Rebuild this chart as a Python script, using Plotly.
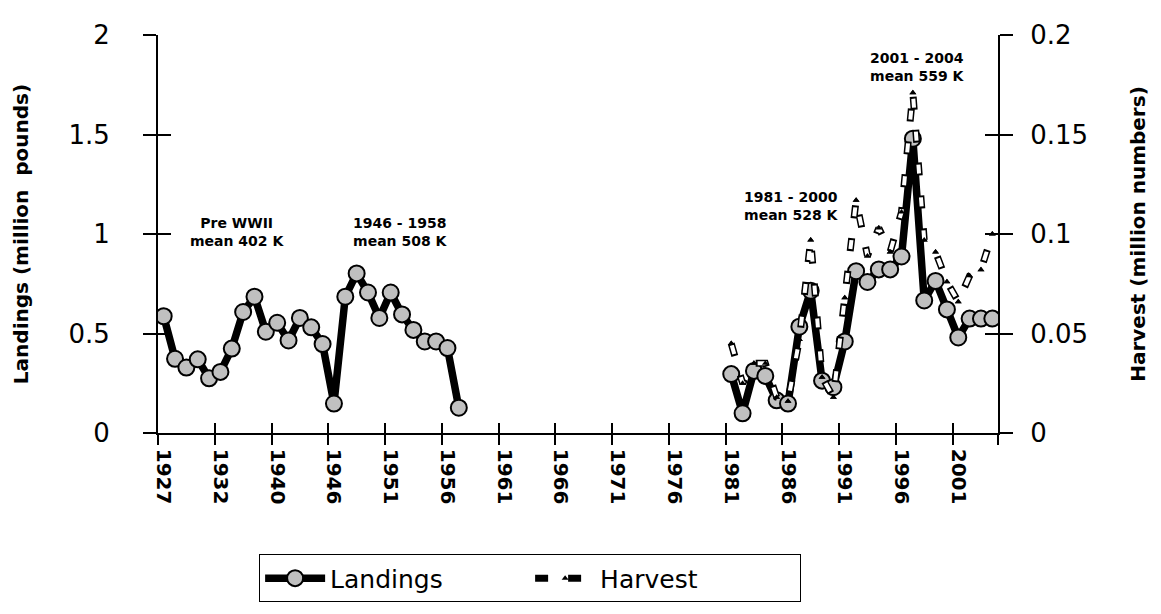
import plotly.graph_objects as go

# ---- categories (x axis) ----
years = [str(y) for y in list(range(1927, 1937)) + [1940, 1941, 1942, 1943, 1944] + list(range(1946, 2005))]
label_years = ["1927", "1932", "1940", "1946", "1951", "1956", "1961", "1966",
               "1971", "1976", "1981", "1986", "1991", "1996", "2001"]

# ---- series values ----
landings_early_years = years[0:27]          # 1927 ... 1957
landings_early = [0.587, 0.373, 0.329, 0.370, 0.275, 0.307, 0.424, 0.608, 0.685, 0.509,
                  0.554, 0.465, 0.578, 0.531, 0.447, 0.148, 0.685, 0.802, 0.706, 0.578,
                  0.706, 0.596, 0.518, 0.460, 0.460, 0.427, 0.127]
late_years = [str(y) for y in range(1981, 2005)]
landings_late = [0.296, 0.099, 0.312, 0.287, 0.164, 0.148, 0.534, 0.715, 0.263, 0.230,
                 0.460, 0.813, 0.759, 0.822, 0.822, 0.887, 1.479, 0.666, 0.764, 0.621,
                 0.480, 0.575, 0.575, 0.575]
harvest_late = [0.045, 0.025, 0.035, 0.035, 0.018, 0.016, 0.047, 0.097, 0.028, 0.018,
                0.068, 0.117, 0.089, 0.103, 0.091, 0.111, 0.171, 0.097, 0.091, 0.076,
                0.066, 0.079, 0.082, 0.100]

notes = [("Pre WWII<br>mean 402 K", 6.5, 1.01),
         ("1946 - 1958<br>mean 508 K", 20.9, 1.01),
         ("1981 - 2000<br>mean 528 K", 55.3, 1.14),
         ("2001 - 2004<br>mean 559 K", 66.4, 1.84)]

# full-length arrays (None where no data)
land_map = dict(zip(landings_early_years, landings_early))
land_map.update(dict(zip(late_years, landings_late)))
landings_all = [land_map.get(y) for y in years]
harv_map = dict(zip(late_years, harvest_late))
harvest_all = [harv_map.get(y) for y in years]

FONT = "DejaVu Sans"
n = len(years)
boundaries = [i - 0.5 for i in range(0, n, 5)] + [n - 0.5]

fig = go.Figure()
fig.add_trace(go.Scatter(
    x=years, y=landings_all, name="Landings", mode="lines+markers",
    line=dict(color="black", width=7.5), connectgaps=False,
    marker=dict(symbol="circle", size=16, color="#c0c0c0", line=dict(color="black", width=2)),
))
# Harvest: outlined dashed line (black dashes + white inner dashes) with triangles
fig.add_trace(go.Scatter(
    x=years, y=harvest_all, name="Harvest", yaxis="y2", mode="lines+markers",
    line=dict(color="black", width=7, dash="13px,20px"), connectgaps=False,
    marker=dict(symbol="triangle-up", size=6, color="black"),
))
fig.add_trace(go.Scatter(
    x=years, y=harvest_all, yaxis="y2", mode="lines", showlegend=False, hoverinfo="skip",
    line=dict(color="white", width=4, dash="0px,2px,9px,22px"), connectgaps=False,
))
fig.add_trace(go.Scatter(
    x=years, y=harvest_all, yaxis="y2", mode="markers", showlegend=False, hoverinfo="skip",
    marker=dict(symbol="triangle-up", size=6, color="black"),
))
# empty traces to carry the tick-only overlay axes
fig.add_trace(go.Scatter(x=[], y=[], xaxis="x2", yaxis="y3", showlegend=False, hoverinfo="skip"))
fig.add_trace(go.Scatter(x=[], y=[], xaxis="x3", yaxis="y4", showlegend=False, hoverinfo="skip"))

for text, xi, yv in notes:
    fig.add_annotation(x=xi, y=yv, xref="x", yref="y", text=text, showarrow=False,
                       font=dict(family=FONT, size=14, color="black", weight="bold"),
                       align="center")

fig.update_layout(
    width=1153, height=606, autosize=False,
    margin=dict(l=145, r=163, t=26, b=174),
    paper_bgcolor="white", plot_bgcolor="white",
    font=dict(family=FONT, color="black"),
    showlegend=True,
    legend=dict(orientation="h", x=0.443, xanchor="center", y=-0.305, yanchor="top",
                bordercolor="black", borderwidth=1, bgcolor="white",
                font=dict(family=FONT, size=25, color="black"), entrywidth=195, itemwidth=60),
    xaxis=dict(type="category", categoryorder="array", categoryarray=years,
               range=[-0.5, n - 0.5], tickmode="array", tickvals=label_years,
               ticks="", tickangle=90, ticklabelstandoff=10,
               tickfont=dict(family=FONT, size=20, color="black", weight="bold"),
               showline=True, linecolor="black", linewidth=1.5, showgrid=False, zeroline=False),
    xaxis2=dict(overlaying="x", anchor="y", range=[-0.5, n - 0.5], tickmode="array",
                tickvals=boundaries, ticks="outside", ticklen=11, tickwidth=1.5, tickcolor="black",
                showticklabels=False, showline=False, showgrid=False, zeroline=False),
    xaxis3=dict(overlaying="x", anchor="y", range=[-0.5, n - 0.5], tickmode="array",
                tickvals=boundaries, ticks="inside", ticklen=10, tickwidth=1.5, tickcolor="black",
                showticklabels=False, showline=False, showgrid=False, zeroline=False),
    yaxis=dict(range=[0, 2], tickmode="linear", tick0=0, dtick=0.5,
               ticks="outside", ticklen=13, tickwidth=1.5, tickcolor="black",
               ticklabelstandoff=28,
               tickfont=dict(family=FONT, size=26, color="black"),
               showline=True, linecolor="black", linewidth=2, showgrid=False, zeroline=False,
               title=dict(text="Landings (million  pounds)", standoff=34,
                          font=dict(family=FONT, size=20, color="black", weight="bold"))),
    yaxis2=dict(overlaying="y", side="right", anchor="x", range=[0, 0.2], tickmode="linear",
                tick0=0, dtick=0.05, ticks="outside", ticklen=13, tickwidth=1.5, tickcolor="black",
                ticklabelstandoff=12,
                tickfont=dict(family=FONT, size=26, color="black"),
                showline=True, linecolor="black", linewidth=2, showgrid=False, zeroline=False,
                title=dict(text="Harvest (million numbers)", standoff=44,
                           font=dict(family=FONT, size=20, color="black", weight="bold"))),
    yaxis3=dict(overlaying="y", anchor="x2", side="left", range=[0, 2], tickmode="linear",
                tick0=0, dtick=0.5, ticks="inside", ticklen=13, tickwidth=1.5, tickcolor="black",
                showticklabels=False, showline=False, showgrid=False, zeroline=False),
    yaxis4=dict(overlaying="y", anchor="x3", side="right", range=[0, 0.2], tickmode="linear",
                tick0=0, dtick=0.05, ticks="inside", ticklen=13, tickwidth=1.5, tickcolor="black",
                showticklabels=False, showline=False, showgrid=False, zeroline=False),
)

fig.write_html("out.html")
